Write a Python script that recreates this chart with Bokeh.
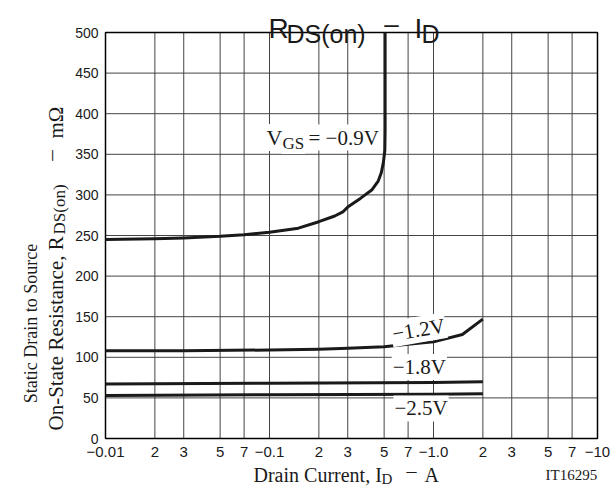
import math
from bokeh.plotting import figure
from bokeh.models import Label, FixedTicker, CustomJSTickFormatter, ColumnDataSource, LogAxis, LinearAxis
from bokeh.embed import file_html
from bokeh.resources import INLINE

# ---- data (drain current magnitude in A, resistance in mOhm) ----
x_ticks = [0.01, 0.02, 0.03, 0.05, 0.07, 0.1, 0.2, 0.3, 0.5, 0.7, 1.0, 2.0, 3.0, 5.0, 7.0, 10.0]
x_tick_labels = ["−0.01", "2", "3", "5", "7", "−0.1", "2", "3", "5", "7", "−1.0", "2", "3", "5", "7", "−10"]
y_ticks = [0, 50, 100, 150, 200, 250, 300, 350, 400, 450, 500]

id_09 = [0.01, 0.02, 0.03, 0.05, 0.07, 0.1, 0.15, 0.2, 0.25, 0.28, 0.3, 0.36, 0.42, 0.46, 0.48, 0.495, 0.505, 0.507, 0.507]
r_09 = [245, 246, 247, 249, 251, 254, 259, 267, 274, 279, 285, 296, 306, 317, 327, 340, 355, 380, 500]

id_12 = [0.01, 0.03, 0.1, 0.2, 0.3, 0.5, 0.7, 1.0, 1.5, 2.0]
r_12 = [108, 108, 109, 110, 111, 113, 116, 119, 128, 147]

id_18 = [0.01, 0.1, 1.0, 2.0]
r_18 = [67, 68, 69, 70]

id_25 = [0.01, 0.1, 1.0, 2.0]
r_25 = [53, 54, 54.5, 55]

X_MIN, X_MAX = 0.01, 10.0
Y_MIN, Y_MAX = 0, 500

SANS = "Liberation Sans"
SERIF = "Liberation Serif"
INK = "#1a1a1a"
GRID = "#444444"

# ---- layout: the frame covers the whole canvas; the plot box sits inside ----
W, H = 616, 492
BOX_L, BOX_R, BOX_T, BOX_B = 105, 597, 32, 438
dec = (BOX_R - BOX_L) / math.log10(X_MAX / X_MIN)
x_start = X_MIN * 10 ** (-BOX_L / dec)
x_end = X_MAX * 10 ** ((W - BOX_R) / dec)
k = (BOX_B - BOX_T) / (Y_MAX - Y_MIN)
y_start = Y_MIN - (H - BOX_B) / k
y_end = Y_MAX + BOX_T / k

p = figure(width=W, height=H, x_axis_type="log", x_range=(x_start, x_end), y_range=(y_start, y_end),
           output_backend="svg", toolbar_location=None, x_axis_location=None, y_axis_location=None,
           min_border=0)
p.background_fill_color = "white"
p.border_fill_color = "white"
p.outline_line_color = None
p.xgrid.visible = False
p.ygrid.visible = False

xax = LogAxis(fixed_location=Y_MIN, bounds=(X_MIN, X_MAX), ticker=FixedTicker(ticks=x_ticks))
xax.formatter = CustomJSTickFormatter(args=dict(tv=x_ticks, tl=x_tick_labels), code="""
    for (let i = 0; i < tv.length; i++) {
        if (Math.abs(Math.log10(tv[i]) - Math.log10(tick)) < 1e-6) return tl[i];
    }
    return "";
""")
yax = LinearAxis(fixed_location=X_MIN, bounds=(Y_MIN, Y_MAX), ticker=FixedTicker(ticks=y_ticks))
for ax in (xax, yax):
    ax.axis_line_color = None
    ax.major_tick_line_color = None
    ax.minor_tick_line_color = None
    ax.major_tick_out = 0
    ax.major_tick_in = 0
    ax.major_label_text_font = SANS
    ax.major_label_text_color = INK
xax.major_label_text_font_size = "15px"
yax.major_label_text_font_size = "14px"
xax.major_label_standoff = 8
yax.major_label_standoff = 7
p.add_layout(xax, "below")
p.add_layout(yax, "left")

# grid lines from the tick arrays
p.segment(x0=x_ticks, x1=x_ticks, y0=[Y_MIN] * len(x_ticks), y1=[Y_MAX] * len(x_ticks),
          line_color=GRID, line_width=1)
p.segment(x0=[X_MIN] * len(y_ticks), x1=[X_MAX] * len(y_ticks), y0=y_ticks, y1=y_ticks,
          line_color=GRID, line_width=1)
p.quad(left=[X_MIN], right=[X_MAX], bottom=[Y_MIN], top=[Y_MAX], fill_color=None,
       line_color="black", line_width=1.5)

for xs, ys in ((id_09, r_09), (id_12, r_12), (id_18, r_18), (id_25, r_25)):
    src = ColumnDataSource(dict(x=xs, y=ys))
    p.line("x", "y", source=src, line_color=INK, line_width=3, line_join="round")


def lab(text, x, y, size, font=SERIF, units="screen", align="left", baseline="alphabetic",
        angle=0.0, bg=None):
    kw = {}
    if bg:
        kw = dict(background_fill_color=bg, padding=1)
    p.add_layout(Label(x=x, y=y, x_units=units, y_units=units, text=text,
                       text_font=font, text_font_size=size, text_color=INK,
                       text_align=align, text_baseline=baseline, angle=angle, **kw))

def sy(py):
    return H - py

# title
lab("R", 268, sy(28), "28px", font=SANS)
lab("DS(on)", 286, sy(33), "25px", font=SANS)
lab("–", 391, sy(23), "26px", font=SANS, align="center", baseline="middle")
lab("I", 414, sy(28), "28px", font=SANS)
lab("D", 421, sy(33), "25px", font=SANS)

# x axis title
lab("Drain Current, I", 253, sy(474), "20px")
lab("D", 381, sy(478), "15px")
lab("–", 411, sy(470), "20px", align="center", baseline="middle")
lab("A", 424, sy(474), "20px")
lab("IT16295", 545, sy(474), "15px")

# y axis title (rotated)
R90 = math.pi / 2
lab("Static Drain to Source", 30, sy(323), "18px", align="center", baseline="middle", angle=R90)
lab("On-State Resistance, R", 55, sy(430), "21px", angle=R90)
lab("DS(on)", 59, sy(234), "17px", angle=R90)
lab("–", 50, sy(155), "21px", align="center", baseline="middle", angle=R90)
lab("mΩ", 55, sy(138), "21px", angle=R90)

# curve labels
lab("V", 265, sy(137), "22px", bg="white")
lab("GS", 281, sy(143), "17px", bg="white")
lab("= −0.9V", 307, sy(137), "21px", bg="white")
lab("−1.2V", 0.81, 134, "21px", units="data", align="center", baseline="middle", angle=0.17, bg="white")
lab("−1.8V", 0.82, 88, "21px", units="data", align="center", baseline="middle", bg="white")
lab("−2.5V", 0.84, 37, "21px", units="data", align="center", baseline="middle", bg="white")

open("out.html", "w").write(file_html(p, INLINE))
